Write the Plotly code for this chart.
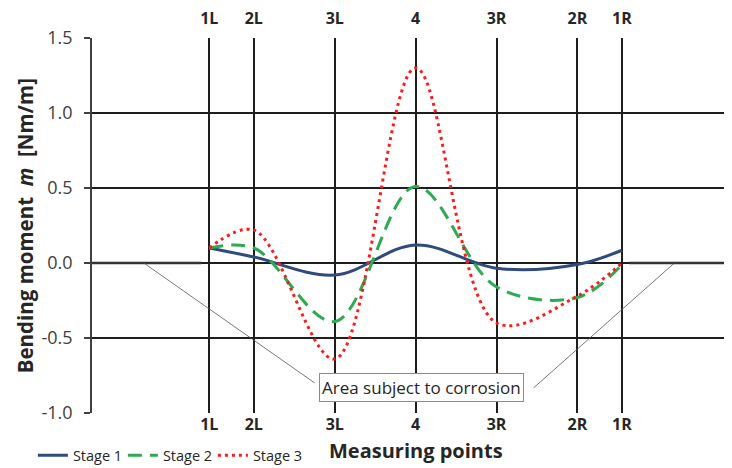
import plotly.graph_objects as go

# measuring points (position along the slab, arbitrary units) and labels
point_labels = ["1L", "2L", "3L", "4", "3R", "2R", "1R"]
point_pos = [-2.55, -2.0, -1.0, 0.0, 1.0, 2.0, 2.55]

stage1 = [0.10, 0.04, -0.08, 0.12, -0.035, -0.01, 0.085]
stage2 = [0.10, 0.10, -0.39, 0.51, -0.16, -0.23, -0.01]
stage3 = [0.10, 0.22, -0.64, 1.30, -0.40, -0.22, 0.00]

# intact (non-corroded) zones drawn as zero lines
left_zone_x = [-4.0, -2.65]
right_zone_x = [2.64, 3.91]
zone_y = [0.0, 0.0]

y_ticks = [-1.0, -0.5, 0.0, 0.5, 1.0, 1.5]
y_tick_labels = ["-1.0", "-0.5", "0.0", "0.5", "1.0", "1.5"]

FONT = "Open Sans"
DARK = "#262626"
GRID = "#1e1e1e"

fig = go.Figure()

fig.add_trace(go.Scatter(x=left_zone_x, y=zone_y, mode="lines", xaxis="x2",
                         line=dict(color="#333333", width=2.5), showlegend=False, hoverinfo="skip"))
fig.add_trace(go.Scatter(x=right_zone_x, y=zone_y, mode="lines", xaxis="x2",
                         line=dict(color="#333333", width=2.5), showlegend=False, hoverinfo="skip"))

fig.add_trace(go.Scatter(x=point_pos, y=stage1, mode="lines", name="Stage 1",
                         line=dict(color="#2F4B7D", width=3, shape="spline", smoothing=1.0)))
fig.add_trace(go.Scatter(x=point_pos, y=stage2, mode="lines", name="Stage 2",
                         line=dict(color="#2DAA52", width=3, shape="spline", smoothing=1.0, dash="14px,8px")))
fig.add_trace(go.Scatter(x=point_pos, y=stage3, mode="lines", name="Stage 3",
                         line=dict(color="#FF1A1A", width=3, shape="spline", smoothing=1.0, dash="3px,4px")))

# leader lines to the annotation box
fig.add_shape(type="line", x0=-3.36, y0=0, x1=-1.247, y1=-0.80, xref="x", yref="y",
              line=dict(color="#555555", width=0.8))
fig.add_shape(type="line", x0=1.457, y0=-0.833, x1=3.198, y1=0, xref="x", yref="y",
              line=dict(color="#555555", width=0.8))

fig.add_annotation(x=0.074, y=-0.827, xref="x", yref="y", text="Area subject to corrosion",
                   showarrow=False, font=dict(family=FONT, size=17, color=DARK),
                   bgcolor="white", bordercolor="#8c8c8c", borderwidth=1, borderpad=2)

fig.add_annotation(x=0.0, y=-0.10, xref="x", yref="paper", text="<b>Measuring points</b>",
                   showarrow=False, yanchor="middle",
                   font=dict(family=FONT, size=20, color=DARK))
fig.add_annotation(x=-0.105, y=0.5, xref="paper", yref="paper",
                   text="<b>Bending moment  <i>m</i>  [Nm/m]</b>", textangle=-90,
                   showarrow=False, xanchor="center", yanchor="middle",
                   font=dict(family=FONT, size=20.5, color=DARK))

axis_common = dict(range=[-4.0, 3.91], tickvals=point_pos,
                   ticktext=["<b>%s</b>" % t for t in point_labels],
                   tickfont=dict(family=FONT, size=16, color=DARK), ticks="",
                   automargin=False)

fig.update_layout(
    width=732, height=468,
    margin=dict(l=84, r=8, t=30, b=63),
    plot_bgcolor="white", paper_bgcolor="white",
    font=dict(family=FONT, color=DARK),
    xaxis=dict(**axis_common, showgrid=True, gridcolor=GRID, gridwidth=1.5,
               zeroline=False, showline=False, ticklabelstandoff=0),
    xaxis2=dict(**axis_common, overlaying="x", side="top", matches="x",
                showgrid=False, zeroline=False, showline=False, ticklabelstandoff=10),
    yaxis=dict(range=[-1.0, 1.5], tickvals=y_ticks, ticktext=y_tick_labels,
               tickfont=dict(family=FONT, size=18, color="#404040"),
               showgrid=True, gridcolor=GRID, gridwidth=1.5, zeroline=False,
               showline=True, linecolor="#404040", linewidth=1.5, automargin=False,
               ticks="outside", ticklen=6, tickcolor="#404040", tickwidth=1.5,
               ticklabelstandoff=8),
    legend=dict(orientation="h", xref="container", yref="container",
                x=0.034, xanchor="left", y=0.044, yanchor="middle",
                font=dict(family=FONT, size=14.5, color=DARK), itemwidth=30,
                entrywidth=45, entrywidthmode="pixels", bgcolor="rgba(0,0,0,0)",
                tracegroupgap=0),
    showlegend=True,
)

fig.write_html("out.html")
